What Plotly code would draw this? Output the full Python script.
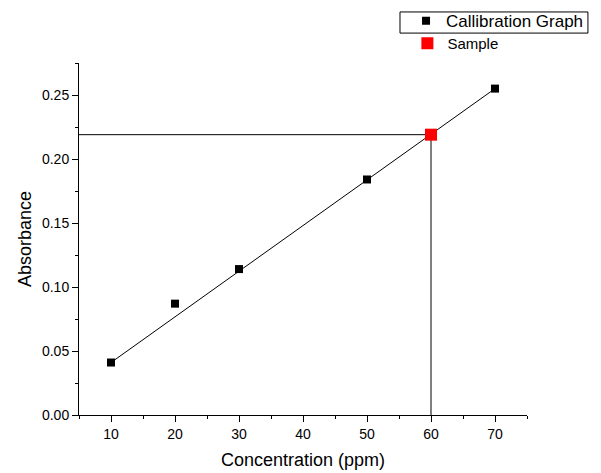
import plotly.graph_objects as go

conc = [10, 20, 30, 50, 70]
absorb = [0.041, 0.087, 0.114, 0.184, 0.255]
fit_x = [10, 70]
fit_y = [0.041, 0.255]
sample_x = [60]
sample_y = [0.219]
x_range = [5, 75]
y_range = [0, 0.275]

FONT = "Liberation Sans, Arial, sans-serif"

fig = go.Figure()
fig.add_trace(go.Scatter(x=fit_x, y=fit_y, mode="lines",
                         line=dict(color="black", width=1), showlegend=False,
                         hoverinfo="skip"))
fig.add_trace(go.Scatter(x=conc, y=absorb, mode="markers", name="Callibration Graph",
                         marker=dict(symbol="square", size=8, color="black"),
                         legend="legend"))
# guide lines
fig.add_trace(go.Scatter(x=[x_range[0], sample_x[0]], y=[sample_y[0], sample_y[0]], mode="lines",
                         line=dict(color="black", width=1), showlegend=False, hoverinfo="skip"))
fig.add_trace(go.Scatter(x=[sample_x[0], sample_x[0]], y=[y_range[0], sample_y[0]], mode="lines",
                         line=dict(color="black", width=1), showlegend=False, hoverinfo="skip"))
fig.add_trace(go.Scatter(x=sample_x, y=sample_y, mode="markers", name="Sample",
                         marker=dict(symbol="square", size=12, color="#ff0000"),
                         legend="legend2"))

axis_common = dict(showline=True, linecolor="black", linewidth=1, showgrid=False,
                   zeroline=False, ticks="outside", ticklen=6, tickcolor="black",
                   automargin=False,
                   tickfont=dict(family=FONT, size=14, color="black"))

fig.update_xaxes(range=x_range, tick0=10, dtick=10,
                 minor=dict(ticks="outside", ticklen=3, tick0=5, dtick=5, tickcolor="black"),
                 title=dict(text="Concentration (ppm)", font=dict(family=FONT, size=18, color="black"),
                            standoff=12),
                 **axis_common)
fig.update_yaxes(range=y_range, tick0=0, dtick=0.05, tickformat=".2f",
                 minor=dict(ticks="outside", ticklen=3, tick0=0, dtick=0.025, tickcolor="black"),
                 title=dict(text="Absorbance", font=dict(family=FONT, size=18, color="black"),
                            standoff=5),
                 **axis_common)

# legend frame around the first entry only
fig.add_shape(type="rect", xref="paper", yref="paper",
              x0=0.7165, x1=1.136, y0=1.085, y1=1.145,
              line=dict(color="black", width=1), fillcolor="rgba(0,0,0,0)")

fig.update_layout(
    width=601, height=473,
    margin=dict(l=79, r=74, t=63, b=58, autoexpand=False),
    plot_bgcolor="white", paper_bgcolor="white",
    font=dict(family=FONT, color="black"),
    legend=dict(x=0.73, y=1.17, xanchor="left", yanchor="top",
                bgcolor="rgba(0,0,0,0)",
                font=dict(family=FONT, size=17, color="black"),
                itemwidth=30, tracegroupgap=0),
    legend2=dict(x=0.733, y=1.102, xanchor="left", yanchor="top",
                 bgcolor="rgba(0,0,0,0)",
                 font=dict(family=FONT, size=15, color="black"),
                 itemwidth=30),
)

fig.write_html("out.html")
